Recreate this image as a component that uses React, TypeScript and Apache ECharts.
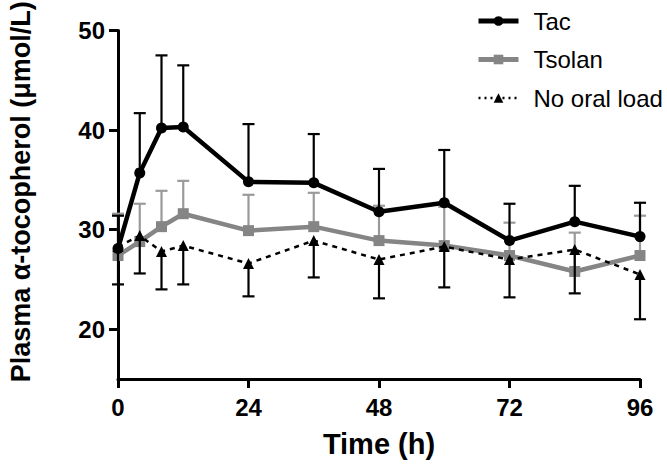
import React, { useEffect, useRef } from "react";
import * as echarts from "echarts";

const times = [0, 4, 8, 12, 24, 36, 48, 60, 72, 84, 96];
const tacMean = [28.1, 35.7, 40.2, 40.3, 34.8, 34.7, 31.8, 32.7, 28.9, 30.8, 29.3];
const tacSD = [3.3, 6.0, 7.3, 6.2, 5.8, 4.9, 4.3, 5.3, 3.7, 3.6, 3.4];
const tsolanMean = [27.4, 28.8, 30.3, 31.6, 29.9, 30.3, 28.9, 28.4, 27.4, 25.8, 27.4];
const tsolanSD = [4.2, 3.8, 3.6, 3.3, 3.6, 3.4, 3.5, 3.9, 3.3, 3.9, 4.0];
const noLoadMean = [28.3, 29.4, 27.8, 28.4, 26.6, 28.9, 27.0, 28.3, 27.0, 28.0, 25.5];
const noLoadSD = [3.8, 3.8, 3.8, 3.9, 3.3, 3.7, 3.9, 4.1, 3.8, 4.4, 4.5];

const yTickValues = [20, 30, 40, 50];
const seriesNames = ["Tac", "Tsolan", "No oral load"];

const FONT = "'Liberation Sans', Arial, Helvetica, sans-serif";

function errData(mean: number[], sd: number[], dir: number) {
  return times.map((t, i) => [t, mean[i], mean[i] + dir * sd[i]]);
}

function errSeries(name: string, data: number[][], color: string, z: number) {
  return {
    type: "custom",
    name: name + "-err",
    z,
    silent: true,
    data,
    encode: { x: 0, y: [1, 2] },
    renderItem: (params: any, api: any) => {
      const t = api.value(0);
      const from = api.coord([t, api.value(1)]);
      const to = api.coord([t, api.value(2)]);
      const half = 6;
      const style = { stroke: color, lineWidth: 2.2 };
      return {
        type: "group",
        children: [
          { type: "line", shape: { x1: from[0], y1: from[1], x2: to[0], y2: to[1] }, style },
          { type: "line", shape: { x1: to[0] - half, y1: to[1], x2: to[0] + half, y2: to[1] }, style },
        ],
      };
    },
  };
}

export default function App() {
  const ref = useRef<HTMLDivElement>(null);
  useEffect(() => {
    if (!ref.current) return;
    const chart = echarts.init(ref.current, undefined, { renderer: "svg" });
    const gray = "#858585";
    const option: any = {
      animation: false,
      backgroundColor: "#ffffff",
      textStyle: { fontFamily: FONT },
      grid: { left: 118, right: 27, top: 30.5, bottom: 85, outerBoundsMode: "none" },
      legend: {
        data: [
          { name: seriesNames[0], lineStyle: { width: 5, color: "#000" } },
          { name: seriesNames[1], lineStyle: { width: 5, color: gray } },
          { name: seriesNames[2], lineStyle: { width: 2.5, color: "#000", type: [2, 4] } },
        ],
        orient: "vertical",
        left: 471,
        top: 4,
        itemWidth: 40,
        itemHeight: 12,
        itemGap: 14.5,
        textStyle: { fontSize: 24, color: "#000", fontFamily: FONT, lineHeight: 24, padding: [0, 0, 0, 10] },
      },
      xAxis: {
        type: "value",
        min: 0,
        max: 96,
        interval: 24,
        name: "Time (h)",
        nameLocation: "middle",
        nameGap: 50,
        nameTextStyle: { fontSize: 29, fontWeight: "bold", color: "#000", fontFamily: FONT },
        axisLine: { lineStyle: { color: "#000", width: 3 } },
        axisTick: { length: 9, lineStyle: { color: "#000", width: 3 } },
        axisLabel: { fontSize: 24, fontWeight: "bold", color: "#000", margin: 16, fontFamily: FONT },
        splitLine: { show: false },
      },
      yAxis: {
        type: "value",
        min: 15,
        max: 50,
        name: "Plasma α-tocopherol (μmol/L)",
        nameLocation: "middle",
        nameRotate: 90,
        nameGap: 84,
        nameTextStyle: { fontSize: 27, fontWeight: "bold", color: "#000", fontFamily: FONT, padding: [0, 0, 0, 26] },
        axisLine: { show: true, lineStyle: { color: "#000", width: 3 } },
        axisTick: { show: true, length: 9, customValues: yTickValues, lineStyle: { color: "#000", width: 3 } },
        axisLabel: { fontSize: 24, fontWeight: "bold", color: "#000", margin: 13, customValues: yTickValues, fontFamily: FONT },
        splitLine: { show: false },
      },
      series: [
        errSeries("Tsolan", errData(tsolanMean, tsolanSD, 1), "#9a9a9a", 2),
        {
          type: "line",
          name: "Tsolan",
          z: 3,
          data: times.map((t, i) => [t, tsolanMean[i]]),
          symbol: "rect",
          symbolSize: 11,
          itemStyle: { color: gray },
          lineStyle: { color: gray, width: 4.5 },
        },
        errSeries("No oral load", errData(noLoadMean, noLoadSD, -1), "#000", 4),
        {
          type: "line",
          name: "No oral load",
          z: 5,
          data: times.map((t, i) => [t, noLoadMean[i]]),
          symbol: "triangle",
          symbolSize: 11,
          itemStyle: { color: "#000" },
          lineStyle: { color: "#000", width: 2.5, type: [5, 5] },
        },
        errSeries("Tac", errData(tacMean, tacSD, 1), "#000", 6),
        {
          type: "line",
          name: "Tac",
          z: 7,
          data: times.map((t, i) => [t, tacMean[i]]),
          symbol: "circle",
          symbolSize: 11,
          itemStyle: { color: "#000" },
          lineStyle: { color: "#000", width: 4.5 },
        },
      ],
    };
    chart.setOption(option);
    return () => chart.dispose();
  }, []);
  return (
    <div
      ref={ref}
      style={{ position: "fixed", left: 0, top: 0, width: 667, height: 464, background: "#fff" }}
    />
  );
}
